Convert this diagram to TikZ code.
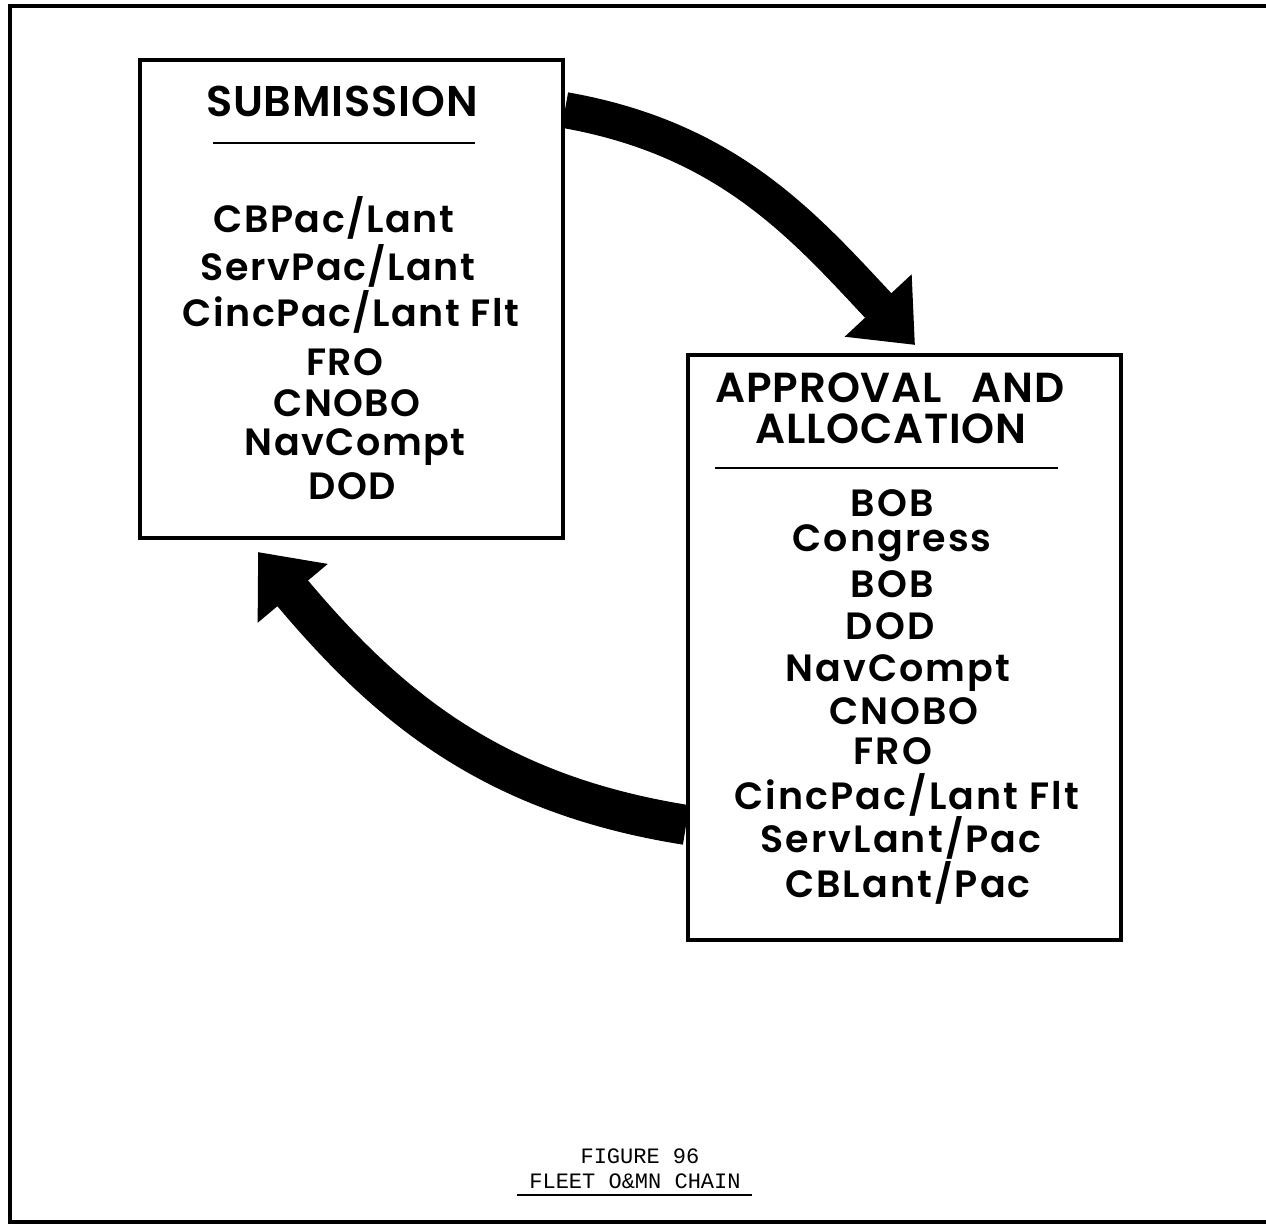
\documentclass[tikz,border=0pt]{standalone}
\usepackage{fontspec}
\setmainfont{Poppins}[UprightFont=* SemiBold]
\newfontfamily\typewriter{Liberation Mono}
\usetikzlibrary{arrows.meta}

\tikzset{
  panel/.style={draw,line width=3.8pt,inner sep=0pt},
  heading/.style={anchor=base,inner sep=0pt,
    font=\fontsize{#1}{48}\selectfont\addfontfeatures{LetterSpace=2}},
  heading/.default=44,
  entry/.style={anchor=base,inner sep=0pt,
    font=\fontsize{38}{42}\selectfont\addfontfeatures{LetterSpace=#1}},
  entry/.default=4,
  rule/.style={line width=2.5pt},
  flow/.style={line width=#1,-{Triangle[length=54pt,width=88pt]}},
  caption/.style={anchor=base,inner sep=0pt,font=\typewriter\fontsize{22}{24}\selectfont},
}

\begin{document}
\begin{tikzpicture}[x=1pt,y=1pt,line cap=butt,line join=miter]
  \useasboundingbox (0,0) rectangle (1266,1227);
  % page frame, the right side runs off the sheet
  \draw[line width=3.5pt] (1266,1221) -- (10,1221) -- (10,5) -- (1266,5);

  % submission box
  \node[panel,minimum width=423pt,minimum height=478pt] (sub) at (351.5,928) {};
  \node[heading=43] (subhead) at (342,1110) {SUBMISSION};
  \draw[rule] (213,1084) -- (475,1084);
  \node[entry] (sub1) at (334,994) {CBPac/Lant};
  \node[entry] (sub2) at (338,946) {ServPac/Lant};
  \node[entry] (sub3) at (351,900) {CincPac/Lant Flt};
  \node[entry] (sub4) at (345,851) {FRO};
  \node[entry] (sub5) at (347,810) {CNOBO};
  \node[entry] (sub6) at (355,771) {NavCompt};
  \node[entry] (sub7) at (352,727) {DOD};

  % approval box
  \node[panel,minimum width=433pt,minimum height=585pt] (app) at (904.5,579.5) {};
  \node[heading=42] (apphead1) at (890,824) {APPROVAL\hspace{30pt}AND};
  \node[heading=42] (apphead2) at (891,783) {ALLOCATION};
  \draw[rule] (715,759) -- (1058,759);
  \node[entry=5.5] (app1) at (892,710) {BOB};
  \node[entry=5.5] (app2) at (892,675) {Congress};
  \node[entry=5.5] (app3) at (892,629) {BOB};
  \node[entry=5.5] (app4) at (890,587) {DOD};
  \node[entry=5.5] (app5) at (898,545) {NavCompt};
  \node[entry=5.5] (app6) at (904,502) {CNOBO};
  \node[entry=5.5] (app7) at (893,462) {FRO};
  \node[entry=5.5] (app8) at (907,417) {CincPac/Lant Flt};
  \node[entry=5.5] (app9) at (901,374) {ServLant/Pac};
  \node[entry=5.5] (app10) at (908,330) {CBLant/Pac};

  % the two flow arrows
  \coordinate (tip1) at (915,882);
  \coordinate (tip2) at (258,675);
  \draw[flow=36pt] ([yshift=-52pt]sub.north east) to[out=-10,in=133] (tip1);
  \draw[flow=40pt] ([yshift=117pt]app.south west) to[out=171,in=310] (tip2);

  % caption
  \node[caption] (fig) at (640,64) {FIGURE 96};
  \node[caption] (figtitle) at (635,39) {FLEET O\&MN CHAIN};
  \draw[line width=2pt] (517,32) -- (752,32);
\end{tikzpicture}
\end{document}
